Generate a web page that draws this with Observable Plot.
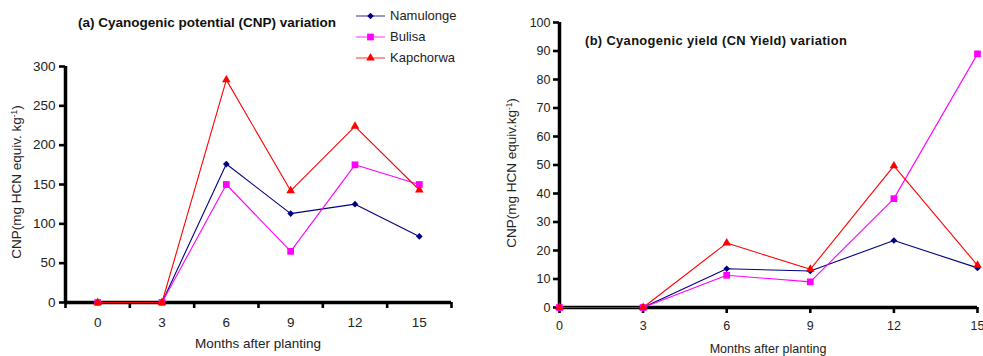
<!DOCTYPE html>
<html><head><meta charset="utf-8">
<script src="https://cdn.jsdelivr.net/npm/d3@7"></script>
<script src="https://cdn.jsdelivr.net/npm/@observablehq/plot@0.6"></script>
<style>
body{margin:0;background:#fff;font-family:"Liberation Sans",Arial,sans-serif;}
#wrap{position:relative;width:983px;height:356px;overflow:hidden;background:#fff;}
.abs{position:absolute;white-space:nowrap;color:#222;line-height:1;}
.title{font-weight:bold;color:#111;}
.ylab{transform:translate(-50%,-50%) rotate(-90deg);}
.xlab{transform:translate(-50%,-50%);}
sup{font-size:0.62em;vertical-align:0.55em;line-height:0;}
.leg{display:flex;align-items:center;height:21px;font-size:13px;color:#222;}
.leg svg{margin-right:4px;}
</style></head><body><div id="wrap"></div>
<script>
// ---- data ----
const months = [0, 3, 6, 9, 12, 15];
const seriesNames = ["Namulonge", "Bulisa", "Kapchorwa"];
const cnpNamulonge = [0, 0, 176, 113, 125, 84];
const cnpBulisa = [0, 0, 150, 65, 175, 150];
const cnpKapchorwa = [0, 0, 283, 142, 224, 143];
const yieldNamulonge = [0, 0, 13.6, 12.8, 23.5, 13.9];
const yieldBulisa = [0, 0, 11.3, 9.0, 38.2, 89.0];
const yieldKapchorwa = [0, 0, 22.6, 13.4, 49.7, 14.8];
const cnpTicks = [0, 50, 100, 150, 200, 250, 300];
const yieldTicks = [0, 10, 20, 30, 40, 50, 60, 70, 80, 90, 100];
const titleA = "(a) Cyanogenic potential (CNP) variation";
const titleB = "(b) Cyanogenic yield (CN Yield) variation";
const xLabel = "Months after planting";

// ---- styles ----
const colors = {Namulonge: "#000080", Bulisa: "#ff00ff", Kapchorwa: "#ff0000"};
const symbols = {Namulonge: "diamond2", Bulisa: "square", Kapchorwa: "triangle"};
const radii = {Namulonge: 3, Bulisa: 3.8, Kapchorwa: 3.2};
const font = '"Liberation Sans", Arial, sans-serif';
const axisWidth = 3.5;
const tickWidth = 2.6;

function rows(vals) { return months.map((m, i) => ({month: m, value: vals[i]})); }
function seriesMarks(valsList) {
  const out = [];
  seriesNames.forEach((s, k) => {
    const d = rows(valsList[k]);
    out.push(Plot.line(d, {x: "month", y: "value", stroke: colors[s], strokeWidth: 1.1}));
  });
  seriesNames.forEach((s, k) => {
    const d = rows(valsList[k]);
    out.push(Plot.dot(d, {x: "month", y: "value", symbol: () => symbols[s], fill: colors[s], r: radii[s]}));
  });
  return out;
}

const wrap = document.getElementById("wrap");

// ---- left chart ----
const step = months[1] - months[0];
const bounds = [...months.map(m => m - step / 2), months[months.length - 1] + step / 2];
const left = Plot.plot({
  width: 490, height: 356,
  marginLeft: 65, marginRight: 39, marginTop: 66, marginBottom: 54,
  x: {domain: [bounds[0], bounds[bounds.length - 1]]},
  y: {domain: [0, 300]},
  style: {fontFamily: font, background: "transparent", overflow: "visible", color: "#000"},
  marks: [
    Plot.axisY({ticks: cnpTicks, tickSize: 6, tickPadding: 4, fontSize: 13.5, stroke: "#000", strokeWidth: tickWidth, fill: "#222", label: null}),
    Plot.axisX({ticks: bounds, tickSize: 6, stroke: "#000", strokeWidth: tickWidth, tickFormat: () => "", label: null}),
    Plot.axisX({ticks: months, tickSize: 0, tickPadding: 15, fontSize: 13.5, fill: "#222", label: null}),
    Plot.ruleX([bounds[0]], {stroke: "#000", strokeWidth: axisWidth}),
    Plot.ruleY([0], {stroke: "#000", strokeWidth: axisWidth}),
    ...seriesMarks([cnpNamulonge, cnpBulisa, cnpKapchorwa])
  ]
});
left.style.position = "absolute"; left.style.left = "0px"; left.style.top = "0px";
wrap.appendChild(left);

// ---- right chart ----
const right = Plot.plot({
  width: 493, height: 356,
  marginLeft: 69, marginRight: 6, marginTop: 22, marginBottom: 49,
  x: {domain: [months[0], months[months.length - 1]]},
  y: {domain: [0, 100]},
  style: {fontFamily: font, background: "transparent", overflow: "visible", color: "#000"},
  marks: [
    Plot.axisY({ticks: yieldTicks, tickSize: 6, tickPadding: 3, fontSize: 12.5, stroke: "#000", strokeWidth: tickWidth, fill: "#222", label: null}),
    Plot.axisX({ticks: months, tickSize: 6, tickPadding: 8, fontSize: 12.5, stroke: "#000", strokeWidth: tickWidth, fill: "#222", label: null}),
    Plot.ruleX([months[0]], {stroke: "#000", strokeWidth: axisWidth}),
    Plot.ruleY([0], {stroke: "#000", strokeWidth: axisWidth}),
    ...seriesMarks([yieldNamulonge, yieldBulisa, yieldKapchorwa])
  ]
});
right.style.position = "absolute"; right.style.left = "490px"; right.style.top = "0px";
wrap.appendChild(right);

// ---- text ----
function addDiv(cls, html, css) {
  const d = document.createElement("div");
  d.className = "abs " + cls; d.innerHTML = html;
  Object.assign(d.style, css); wrap.appendChild(d); return d;
}
addDiv("title", titleA, {left: "78px", top: "16px", fontSize: "13.5px"});
addDiv("title", titleB, {left: "585px", top: "35px", fontSize: "12.9px", letterSpacing: "0.35px"});
addDiv("ylab", "CNP(mg HCN equiv. kg<sup>-1</sup>)", {left: "17px", top: "182px", fontSize: "13.5px"});
addDiv("ylab", "CNP(mg HCN equiv.kg<sup>-1</sup>)", {left: "512px", top: "173px", fontSize: "13.5px"});
addDiv("xlab", xLabel, {left: "258px", top: "344px", fontSize: "13.5px"});
addDiv("xlab", xLabel, {left: "768px", top: "349px", fontSize: "12.5px"});

// ---- legend ----
const leg = document.createElement("div");
leg.className = "abs"; leg.style.left = "356px"; leg.style.top = "5px";
seriesNames.forEach(s => {
  const row = document.createElement("div"); row.className = "leg";
  const ns = "http://www.w3.org/2000/svg";
  const svg = document.createElementNS(ns, "svg");
  svg.setAttribute("width", 30); svg.setAttribute("height", 14);
  const ln = document.createElementNS(ns, "line");
  ln.setAttribute("x1", 0); ln.setAttribute("x2", 29); ln.setAttribute("y1", 7); ln.setAttribute("y2", 7);
  ln.setAttribute("stroke", colors[s]); ln.setAttribute("stroke-width", 1.1); ln.setAttribute("opacity", 0.75);
  svg.appendChild(ln);
  const symMap = {diamond2: d3.symbolDiamond2, square: d3.symbolSquare, triangle: d3.symbolTriangle};
  const p = document.createElementNS(ns, "path");
  p.setAttribute("d", d3.symbol(symMap[symbols[s]], Math.PI * radii[s] * radii[s])());
  p.setAttribute("transform", "translate(14.5,7)"); p.setAttribute("fill", colors[s]);
  svg.appendChild(p);
  row.appendChild(svg);
  const t = document.createElement("span"); t.textContent = s; row.appendChild(t);
  leg.appendChild(row);
});
wrap.appendChild(leg);
</script></body></html>
